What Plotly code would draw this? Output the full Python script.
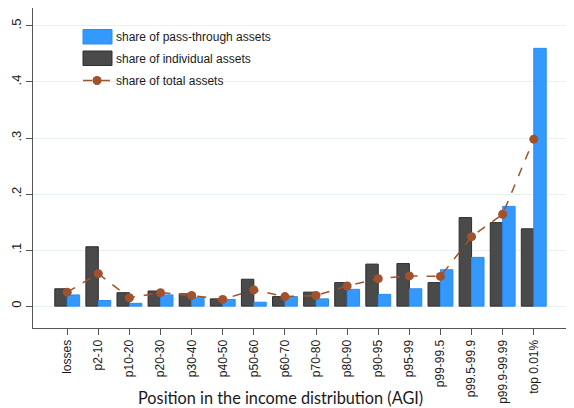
import plotly.graph_objects as go

groups = ["losses", "p2-10", "p10-20", "p20-30", "p30-40", "p40-50", "p50-60", "p60-70",
          "p70-80", "p80-90", "p90-95", "p95-99", "p99-99.5", "p99.5-99.9", "p99.9-99.99", "top 0.01%"]
passthrough = [0.020, 0.010, 0.005, 0.020, 0.016, 0.012, 0.007, 0.017,
               0.013, 0.030, 0.021, 0.031, 0.065, 0.087, 0.178, 0.460]
individual = [0.031, 0.106, 0.024, 0.027, 0.022, 0.013, 0.048, 0.017,
              0.025, 0.042, 0.075, 0.076, 0.042, 0.158, 0.149, 0.138]
total = [0.025, 0.058, 0.015, 0.024, 0.019, 0.012, 0.029, 0.017,
         0.019, 0.036, 0.049, 0.054, 0.053, 0.124, 0.164, 0.298]

ytick_vals = [0, 0.1, 0.2, 0.3, 0.4, 0.5]
ytick_text = ["0", ".1", ".2", ".3", ".4", ".5"]

BLUE, DARK, RUST = "#3399ff", "#4a4a4a", "#a0522d"
AXIS = "#555555"

fig = go.Figure()

# individual first so it sits on the left of each pair
fig.add_trace(go.Bar(x=groups, y=individual, name="share of individual assets",
                     marker=dict(color=DARK, line=dict(color="#2e2e2e", width=1))))
fig.add_trace(go.Bar(x=groups, y=passthrough, name="share of pass-through assets",
                     marker=dict(color=BLUE, line=dict(color="#2a8cf0", width=1))))
fig.add_trace(go.Scatter(x=groups, y=total, name="share of total assets", mode="lines+markers",
                         line=dict(color=RUST, width=1.5, dash="dash"),
                         marker=dict(color=RUST, size=9)))

# page body has an 8px margin, so the figure is pulled up/left to compensate
fig.update_layout(
    width=574, height=408,
    margin=dict(l=25, r=14, t=0, b=88),
    plot_bgcolor="white", paper_bgcolor="white",
    barmode="group", bargap=0.2, bargroupgap=0,
    font=dict(family="Liberation Sans, Arial", size=12, color="#1a1a1a"),
    showlegend=False,
)

# Stata-style legend: wide key boxes drawn in paper coords
def px(x):
    return (x - 33) / 535

def py(y):
    return 1 - (y - 8) / 320

legend_rows = [("share of pass-through assets", 37), ("share of individual assets", 58.5), ("share of total assets", 80.5)]
fig.add_shape(type="rect", xref="paper", yref="paper", x0=px(83), x1=px(112), y0=py(29.5), y1=py(44),
              fillcolor=BLUE, line=dict(color="#2a8cf0", width=1))
fig.add_shape(type="rect", xref="paper", yref="paper", x0=px(83), x1=px(112), y0=py(51), y1=py(65.5),
              fillcolor=DARK, line=dict(color="#2e2e2e", width=1))
fig.add_shape(type="line", xref="paper", yref="paper", x0=px(83), x1=px(112), y0=py(80.5), y1=py(80.5),
              line=dict(color=RUST, width=1.5, dash="dash"))
fig.add_shape(type="circle", xref="paper", yref="paper", x0=px(92.5), x1=px(101.5), y0=py(76), y1=py(85),
              fillcolor=RUST, line=dict(color=RUST, width=0))
for label, y in legend_rows:
    fig.add_annotation(text=label, xref="paper", yref="paper", x=px(114), y=py(y),
                       xanchor="left", yanchor="middle", showarrow=False,
                       font=dict(size=12, color="#1a1a1a"))

fig.add_annotation(text="Position in the income distribution (AGI)",
                   xref="paper", yref="paper", x=px(280), y=0, yshift=-69,
                   xanchor="center", yanchor="middle", showarrow=False,
                   font=dict(family="Lato, Open Sans", size=16.3, color="#1a1a1a"))

fig.update_xaxes(
    range=[-1.1, 16.1], showline=True, linecolor=AXIS, linewidth=1,
    ticks="outside", ticklen=6, tickcolor=AXIS, tickangle=-90,
    tickfont=dict(size=12), showgrid=False, automargin=False,
)
fig.update_yaxes(
    range=[-0.039, 0.532], showline=True, linecolor=AXIS, linewidth=1,
    ticks="outside", ticklen=6, tickcolor=AXIS, tickangle=-90,
    tickvals=ytick_vals, ticktext=ytick_text, tickfont=dict(size=13),
    showgrid=True, gridcolor="#e8f0f2", gridwidth=1, zeroline=False, automargin=False,
)

fig.write_html("out.html")
